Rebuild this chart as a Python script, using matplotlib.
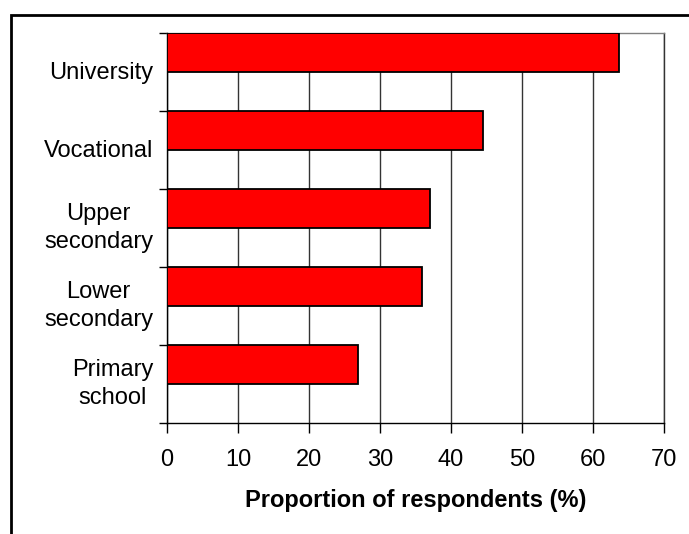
"""Horizontal bar chart: proportion of respondents by education level."""

import matplotlib
matplotlib.use("Agg")
import matplotlib.pyplot as plt
from matplotlib.patches import Rectangle

plt.rcParams['font.family'] = ['Liberation Sans', 'DejaVu Sans']

# data, bottom to top
categories = ['Primary\nschool', 'Lower\nsecondary', 'Upper\nsecondary', 'Vocational', 'University']
values = [26.9, 35.9, 37.0, 44.5, 63.7]
x_ticks = [0, 10, 20, 30, 40, 50, 60, 70]

FS = 17

fig = plt.figure(figsize=(6.89, 5.34), dpi=100)
ax = fig.add_axes([167 / 689, 1 - 423 / 534, 497 / 689, 390 / 534])

pos = list(range(len(categories)))
ax.barh(pos, values, height=0.5, align='edge', color='#FF0000',
        edgecolor='black', linewidth=1.3, zorder=3)

ax.set_xlim(0, 70)
ax.set_ylim(-0.5, len(categories) - 0.5)

ax.set_xticks(x_ticks)
ax.set_xticklabels([str(t) for t in x_ticks], fontsize=FS)
ax.tick_params(axis='x', direction='out', length=7, width=1, pad=12, color='black')
ax.xaxis.grid(True, color='#333333', linewidth=1, zorder=1)
ax.set_axisbelow(True)

# ticks at category boundaries, labels at category centres
ax.set_yticks([p - 0.5 for p in pos] + [len(categories) - 0.5])
ax.set_yticklabels([])
ax.tick_params(axis='y', which='major', direction='out', length=6, width=1)
# nudge labels up a little (two-line labels more) to match the original
label_pos = [p + (0.075 if '\n' in c else 0.025) for p, c in zip(pos, categories)]
ax.set_yticks(label_pos, minor=True)
ax.set_yticklabels(categories, minor=True, fontsize=FS, multialignment='center',
                   linespacing=1.35)
ax.tick_params(axis='y', which='minor', length=0, pad=10)

ax.set_xlabel('Proportion of respondents (%)', fontsize=FS, fontweight='bold', labelpad=13)

for side in ['left', 'bottom']:
    ax.spines[side].set_color('black')
    ax.spines[side].set_linewidth(1)
ax.spines['top'].set_color('#808080')
ax.spines['top'].set_linewidth(1)
ax.spines['right'].set_color('#333333')
ax.spines['right'].set_linewidth(1)

# outer chart border (runs off right and bottom edges)
fig.patches.append(Rectangle((11 / 689, -0.5), 2, 0.5 + (534 - 15) / 534,
                             transform=fig.transFigure, fill=False,
                             edgecolor='black', linewidth=2))

fig.savefig('out.png', dpi=100)
